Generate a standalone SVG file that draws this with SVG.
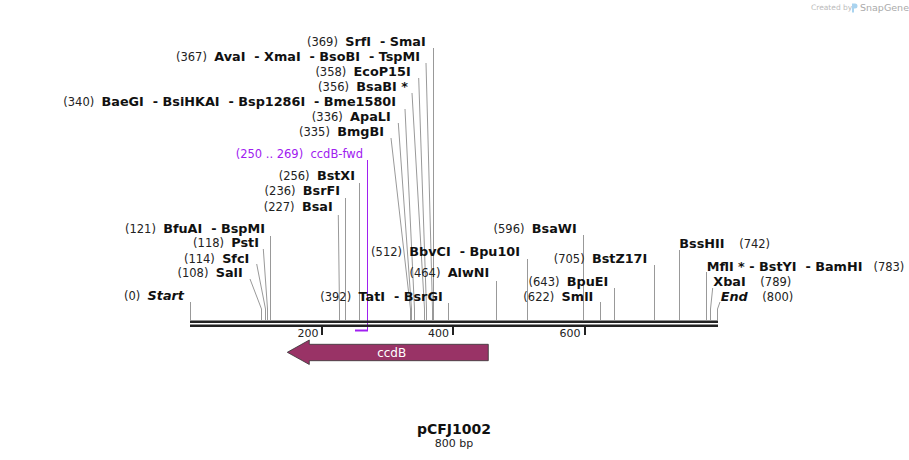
<svg xmlns="http://www.w3.org/2000/svg" width="909" height="460" viewBox="0 0 909 460">
<style>
text{font-family:"DejaVu Sans","Verdana",sans-serif;white-space:pre}
.n{font-size:11.5px;font-weight:normal;fill:#222}
.b{font-size:12.8px;font-weight:bold;fill:#111}
.i{font-style:italic}
.p{fill:#a020f0;font-size:11.5px}
.ln{fill:none;stroke:#999;stroke-width:1}
.tk{fill:#222}
.tl{font-size:11px;fill:#222}
</style>
<rect width="909" height="460" fill="#fff"/>
<g id="watermark">
<text x="811" y="10" style="font-size:7.5px;fill:#bbb">Created by</text>
<path d="M852 3.5 h3 a2.5 2.5 0 0 1 0 5 h-1 v4 h-2 z" fill="#a9d3ef"/>
<text x="860" y="10.5" style="font-size:9.5px;fill:#aaa">SnapGene</text>
</g>
<g id="connectors">
<path class="ln" d="M190.5 302 V320"/>
<path class="ln" d="M250 279 L261.5 309 V320"/>
<path class="ln" d="M256.7 264 L265.5 309 V320"/>
<path class="ln" d="M263.3 249 L267.5 309 V320"/>
<path class="ln" d="M270.5 236 V320"/>
<path class="ln" d="M338.3 215 L339.5 309 V320"/>
<path class="ln" d="M345.5 198 V320"/>
<path class="ln" d="M359.5 183 V320"/>
<path class="ln" d="M391 138 L410.5 309 V320"/>
<path class="ln" d="M398.3 123 L411.5 309 V320"/>
<path class="ln" d="M405 109 L414.5 309 V320"/>
<path class="ln" d="M412 93 L424.5 309 V320"/>
<path class="ln" d="M418.7 78 L426.5 309 V320"/>
<path class="ln" d="M426 63 L432.5 309 V320"/>
<path class="ln" d="M433.5 48 V320"/>
<path class="ln" d="M448.5 303 V320"/>
<path class="ln" d="M496.5 281 V320"/>
<path class="ln" d="M527.5 259 V320"/>
<path class="ln" d="M583.5 235 V320"/>
<path class="ln" d="M600.5 302 V320"/>
<path class="ln" d="M614.5 288 V320"/>
<path class="ln" d="M654.5 265 V320"/>
<path class="ln" d="M679.5 250 V320"/>
<path class="ln" d="M706.5 272 V320"/>
<path class="ln" d="M712.7 288 L710.5 309 V320"/>
<path class="ln" d="M720 302 L717.5 309 V320"/>
<path d="M367.5 160 V330.5 H355" fill="none" stroke="#a020f0" stroke-width="1"/>
<path d="M355 330.5 H368" fill="none" stroke="#a020f0" stroke-width="2"/>
</g>
<g id="backbone">
<rect x="190" y="320.5" width="528" height="2.5" fill="#222"/>
<rect x="190" y="324.5" width="528" height="2.5" fill="#222"/>
<rect class="tk" x="321" y="327" width="2" height="8"/>
<rect class="tk" x="452" y="327" width="2" height="8"/>
<rect class="tk" x="584" y="327" width="2" height="8"/>
<text class="tl" x="318.5" y="337" text-anchor="end">200</text>
<text class="tl" x="449" y="337" text-anchor="end">400</text>
<text class="tl" x="580.5" y="337" text-anchor="end">600</text>
</g>
<g id="ccdB">
<path d="M287.3 352.3 L309.3 340 V344.3 H488.3 V360.7 H309.3 V364.5 Z" fill="#993366" stroke="#333" stroke-width="0.8"/>
<text x="391.7" y="356.5" text-anchor="middle" style="font-size:12px;fill:#fff">ccdB</text>
</g>
<g id="ccdB-fwd"><text class="p" x="363" y="157.5" text-anchor="end">(250 .. 269)  ccdB-fwd</text></g>
<g id="SrfI"><text x="425.7" y="46" text-anchor="end"><tspan class="n">(369)  </tspan><tspan class="b">SrfI  - SmaI</tspan></text></g>
<g id="AvaI"><text x="420" y="61" text-anchor="end"><tspan class="n">(367)  </tspan><tspan class="b">AvaI  - XmaI  - BsoBI  - TspMI</tspan></text></g>
<g id="EcoP15I"><text x="410.7" y="76" text-anchor="end"><tspan class="n">(358)  </tspan><tspan class="b">EcoP15I</tspan></text></g>
<g id="BsaBI"><text x="408" y="91" text-anchor="end"><tspan class="n">(356)  </tspan><tspan class="b">BsaBI *</tspan></text></g>
<g id="BaeGI"><text x="396" y="106" text-anchor="end"><tspan class="n">(340)  </tspan><tspan class="b">BaeGI  - BsiHKAI  - Bsp1286I  - Bme1580I</tspan></text></g>
<g id="ApaLI"><text x="390.7" y="121" text-anchor="end"><tspan class="n">(336)  </tspan><tspan class="b">ApaLI</tspan></text></g>
<g id="BmgBI"><text x="384" y="136" text-anchor="end"><tspan class="n">(335)  </tspan><tspan class="b">BmgBI</tspan></text></g>
<g id="BstXI"><text x="355" y="180" text-anchor="end"><tspan class="n">(256)  </tspan><tspan class="b">BstXI</tspan></text></g>
<g id="BsrFI"><text x="340" y="195.3" text-anchor="end"><tspan class="n">(236)  </tspan><tspan class="b">BsrFI</tspan></text></g>
<g id="BsaI"><text x="332.7" y="210.7" text-anchor="end"><tspan class="n">(227)  </tspan><tspan class="b">BsaI</tspan></text></g>
<g id="BfuAI"><text x="265" y="232.7" text-anchor="end"><tspan class="n">(121)  </tspan><tspan class="b">BfuAI  - BspMI</tspan></text></g>
<g id="PstI"><text x="259" y="247.3" text-anchor="end"><tspan class="n">(118)  </tspan><tspan class="b">PstI</tspan></text></g>
<g id="SfcI"><text x="249.3" y="262.7" text-anchor="end"><tspan class="n">(114)  </tspan><tspan class="b">SfcI</tspan></text></g>
<g id="SalI"><text x="242.7" y="277.3" text-anchor="end"><tspan class="n">(108)  </tspan><tspan class="b">SalI</tspan></text></g>
<g id="Start"><text x="184" y="300" text-anchor="end"><tspan class="n">(0)  </tspan><tspan class="b i">Start</tspan></text></g>
<g id="TatI"><text x="442.7" y="300.7" text-anchor="end"><tspan class="n">(392)  </tspan><tspan class="b">TatI  - BsrGI</tspan></text></g>
<g id="BbvCI"><text x="520" y="255.7" text-anchor="end"><tspan class="n">(512)  </tspan><tspan class="b">BbvCI  - Bpu10I</tspan></text></g>
<g id="AlwNI"><text x="489.3" y="277.3" text-anchor="end"><tspan class="n">(464)  </tspan><tspan class="b">AlwNI</tspan></text></g>
<g id="BsaWI"><text x="576.7" y="232.7" text-anchor="end"><tspan class="n">(596)  </tspan><tspan class="b">BsaWI</tspan></text></g>
<g id="BstZ17I"><text x="647.3" y="262.7" text-anchor="end"><tspan class="n">(705)  </tspan><tspan class="b">BstZ17I</tspan></text></g>
<g id="BpuEI"><text x="608.3" y="285.7" text-anchor="end"><tspan class="n">(643)  </tspan><tspan class="b">BpuEI</tspan></text></g>
<g id="SmlI"><text x="593.3" y="300.7" text-anchor="end"><tspan class="n">(622)  </tspan><tspan class="b">SmlI</tspan></text></g>
<g id="BssHII"><text x="679.3" y="247.7"><tspan class="b">BssHII</tspan><tspan class="n">    (742)</tspan></text></g>
<g id="MflI"><text x="706.7" y="270.7"><tspan class="b">MflI * - BstYI  - BamHI</tspan><tspan class="n">   (783)</tspan></text></g>
<g id="XbaI"><text x="713.3" y="285.7"><tspan class="b">XbaI</tspan><tspan class="n">    (789)</tspan></text></g>
<g id="End"><text x="720.7" y="301.3"><tspan class="b i">End</tspan><tspan class="n">    (800)</tspan></text></g>
<g id="title">
<text x="454" y="434" text-anchor="middle" style="font-size:14px;font-weight:bold;fill:#111">pCFJ1002</text>
<text x="454" y="446.5" text-anchor="middle" style="font-size:11px;fill:#222">800 bp</text>
</g>
</svg>
